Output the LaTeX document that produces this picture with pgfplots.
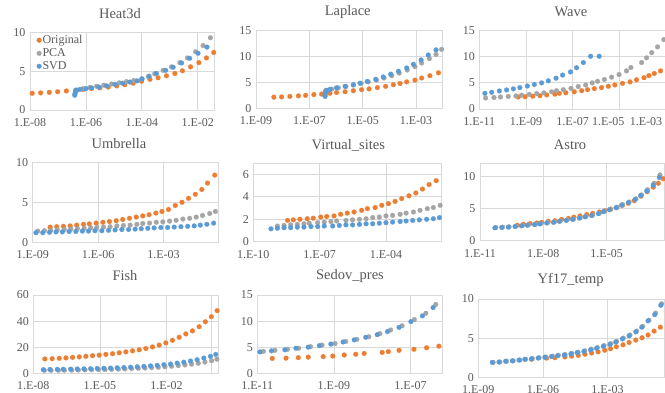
\documentclass[border=0pt]{standalone}
\usepackage{pgfplots}
\pgfplotsset{compat=1.18}
\usepackage{fontspec}
\setmainfont{Liberation Serif}
\definecolor{origc}{HTML}{ED7D31}
\definecolor{pcac}{HTML}{A5A5A5}
\definecolor{svdc}{HTML}{5B9BD5}
\definecolor{gridc}{HTML}{D9D9D9}
\definecolor{txtc}{HTML}{595959}
\pgfplotsset{
  panel/.style={
    scale only axis, anchor=south west,
    axis line style={draw=gridc, line width=0.8pt},
    grid=major, major grid style={draw=gridc, line width=0.8pt},
    tick style={draw=none},
    /pgf/number format/assume math mode=true,
    ticklabel style={font=\fontsize{12}{14}\selectfont, text=txtc},
    xticklabel style={yshift=-5pt},
    yticklabel style={xshift=-1pt},
    clip=false,
  },
  ori/.style={only marks, mark=*, mark size=2.4pt, color=origc, mark options={solid, fill=origc, draw=origc, line width=0.2pt}},
  pca/.style={only marks, mark=*, mark size=2.4pt, color=pcac, mark options={solid, fill=pcac, draw=pcac, line width=0.2pt}},
  svd/.style={only marks, mark=*, mark size=2.4pt, color=svdc, mark options={solid, fill=svdc, draw=svdc, line width=0.2pt}},
}
\newcommand{\ttl}[3]{\node[font=\fontsize{14.5}{16}\selectfont, text=txtc] at (#1pt,#2pt) {#3};}
\begin{document}
\begin{tikzpicture}
\useasboundingbox (0,0) rectangle (665pt,393pt);
% ---------- Heat3d
\begin{axis}[panel, at={(30pt,283pt)}, width=184pt, height=77.7pt,
  xmin=-8, xmax=-1.42, ymin=0, ymax=10, ytick={0,5,10},
  xtick={-8,-6,-4,-2}, xticklabels={1.E-08,1.E-06,1.E-04,1.E-02},
  legend style={draw=none, fill=none, at={(0.03,0.99)}, anchor=north west,
    font=\fontsize{12}{14}\selectfont, text=txtc, row sep=1.5pt, inner sep=1pt,
    nodes={inner sep=1pt}},
  legend cell align=left]
\addplot[ori] coordinates {(-7.92,2.15)(-7.62,2.2)(-7.31,2.27)(-7.01,2.35)(-6.70,2.45)(-6.36,2.55)(-6.10,2.65)(-5.80,2.75)(-5.50,2.85)(-5.20,2.95)(-4.90,3.1)(-4.61,3.25)(-4.31,3.45)(-4.01,3.7)(-3.71,3.95)(-3.42,4.15)(-3.12,4.4)(-2.82,4.7)(-2.55,5.05)(-2.26,5.55)(-1.96,6.1)(-1.69,6.7)(-1.43,7.4)};
\addlegendentry{Original}
\addplot[pca] coordinates {(-6.31,2.55)(-6.10,2.75)(-5.86,2.9)(-5.62,3.05)(-5.36,3.2)(-5.08,3.35)(-4.81,3.5)(-4.55,3.65)(-4.29,3.8)(-4.01,4.0)(-3.77,4.3)(-3.54,4.65)(-3.24,5.1)(-2.94,5.55)(-2.64,6.1)(-2.37,6.7)(-2.08,7.5)(-1.81,8.3)(-1.55,9.3)};
\addlegendentry{PCA}
\addplot[svd] coordinates {(-6.40,1.9)(-6.39,2.1)(-6.38,2.3)(-6.37,2.45)(-6.35,2.55)(-6.21,2.65)(-6.00,2.75)(-5.80,2.85)(-5.54,2.95)(-5.26,3.1)(-4.96,3.3)(-4.69,3.45)(-4.43,3.6)(-4.17,3.75)(-3.99,4.0)(-3.74,4.35)(-3.48,4.7)(-3.15,5.1)(-2.88,5.5)(-2.58,6.05)(-2.29,6.65)(-1.99,7.3)(-1.67,8.1)};
\addlegendentry{SVD}
\end{axis}
% ---------- Laplace
\begin{axis}[panel, at={(256pt,284.7pt)}, width=186.7pt, height=77.6pt,
  xmin=-9, xmax=-2, ymin=0, ymax=15, ytick={0,5,10,15},
  xtick={-9,-7,-5,-3}, xticklabels={1.E-09,1.E-07,1.E-05,1.E-03}]
\addplot[ori] coordinates {(-8.33,2.15)(-8.04,2.2)(-7.73,2.3)(-7.41,2.4)(-7.14,2.5)(-6.83,2.65)(-6.54,2.75)(-6.23,2.9)(-5.98,3.05)(-5.66,3.2)(-5.35,3.4)(-5.04,3.6)(-4.76,3.75)(-4.45,4.0)(-4.14,4.25)(-3.85,4.55)(-3.60,4.8)(-3.35,5.1)(-3.04,5.45)(-2.79,5.85)(-2.48,6.3)(-2.16,6.85)};
\addplot[pca] coordinates {(-6.38,3.0)(-6.38,3.3)(-6.37,3.5)(-6.16,3.7)(-5.91,3.95)(-5.63,4.2)(-5.35,4.5)(-5.06,4.8)(-4.79,5.1)(-4.48,5.45)(-4.20,5.85)(-3.91,6.3)(-3.63,6.8)(-3.33,7.4)(-3.04,8.05)(-2.79,8.75)(-2.50,9.6)(-2.25,10.4)(-2.04,11.4)};
\addplot[svd] coordinates {(-6.41,2.3)(-6.41,2.6)(-6.41,2.9)(-6.40,3.2)(-6.35,3.45)(-6.23,3.65)(-5.98,3.95)(-5.66,4.25)(-5.35,4.55)(-5.10,4.85)(-4.83,5.2)(-4.51,5.6)(-4.23,6.05)(-3.95,6.6)(-3.66,7.15)(-3.35,7.8)(-3.10,8.5)(-2.81,9.35)(-2.54,10.3)(-2.25,11.3)};
\end{axis}
% ---------- Wave
\begin{axis}[panel, at={(479.3pt,284pt)}, width=187.1pt, height=78.3pt,
  xmin=-11, xmax=-2.98, ymin=0, ymax=15, ytick={0,5,10,15},
  xtick={-11,-9,-7,-5,-3}, xticklabels={1.E-11,1.E-09,1.E-07,\hspace*{-22pt}1.E-05,\hspace*{-40pt}1.E-03}]
\addplot[ori] coordinates {(-9.33,2.3)(-9.04,2.35)(-8.71,2.45)(-8.40,2.55)(-8.11,2.7)(-7.76,2.85)(-7.57,3.0)(-7.29,3.1)(-6.93,3.3)(-6.61,3.5)(-6.36,3.7)(-6.07,3.9)(-5.76,4.1)(-5.47,4.35)(-5.19,4.6)(-4.86,4.9)(-4.54,5.2)(-4.26,5.6)(-3.94,6.0)(-3.73,6.4)(-3.50,6.8)(-3.23,7.3)};
\addplot[pca] coordinates {(-10.73,2.1)(-10.37,2.2)(-10.09,2.3)(-9.76,2.4)(-9.43,2.5)(-9.19,2.65)(-8.86,2.8)(-8.54,2.95)(-8.23,3.1)(-7.90,3.3)(-7.69,3.5)(-7.40,3.7)(-7.07,3.95)(-6.76,4.3)(-6.44,4.6)(-6.16,5.0)(-5.93,5.3)(-5.64,5.65)(-5.33,6.1)(-5.01,6.6)(-4.69,7.3)(-4.50,7.95)(-4.04,8.9)(-3.83,9.8)(-3.61,10.8)(-3.36,11.9)(-3.09,13.3)};
\addplot[svd] coordinates {(-10.76,3.0)(-10.47,3.2)(-10.14,3.45)(-9.83,3.65)(-9.54,3.85)(-9.26,4.1)(-8.94,4.4)(-8.64,4.7)(-8.33,5.0)(-8.04,5.4)(-7.71,5.9)(-7.43,6.5)(-7.09,7.1)(-6.83,7.9)(-6.54,8.9)(-6.23,10.1)(-5.86,10.1)};
\end{axis}
% ---------- Umbrella
\begin{axis}[panel, at={(32.7pt,150.7pt)}, width=185.3pt, height=80pt,
  xmin=-9, xmax=-0.5, ymin=0, ymax=10, ytick={0,5,10},
  xtick={-9,-6,-3}, xticklabels={1.E-09,1.E-06,1.E-03}]
\addplot[ori] coordinates {(-8.20,1.9)(-7.90,1.95)(-7.59,2.0)(-7.28,2.05)(-6.98,2.15)(-6.67,2.25)(-6.40,2.3)(-6.09,2.4)(-5.78,2.5)(-5.48,2.6)(-5.17,2.7)(-4.87,2.85)(-4.56,3.0)(-4.25,3.15)(-3.95,3.3)(-3.66,3.45)(-3.35,3.65)(-3.07,3.85)(-2.77,4.1)(-2.46,4.6)(-2.15,5.0)(-1.85,5.5)(-1.54,6.0)(-1.24,6.6)(-0.98,7.4)(-0.65,8.4)};
\addplot[pca] coordinates {(-8.77,1.4)(-8.46,1.45)(-8.17,1.5)(-7.87,1.55)(-7.55,1.6)(-7.25,1.65)(-6.95,1.7)(-6.64,1.75)(-6.34,1.8)(-6.06,1.85)(-5.75,1.9)(-5.45,1.95)(-5.14,2.05)(-4.84,2.1)(-4.53,2.15)(-4.22,2.25)(-3.95,2.35)(-3.64,2.4)(-3.33,2.5)(-3.03,2.55)(-2.72,2.65)(-2.42,2.75)(-2.11,2.9)(-1.80,3.0)(-1.50,3.15)(-1.21,3.35)(-0.88,3.6)(-0.62,3.85)};
\addplot[svd] coordinates {(-8.85,1.2)(-8.54,1.2)(-8.23,1.25)(-7.93,1.3)(-7.64,1.3)(-7.33,1.35)(-7.02,1.35)(-6.72,1.4)(-6.44,1.4)(-6.14,1.45)(-5.83,1.45)(-5.52,1.5)(-5.22,1.55)(-4.91,1.6)(-4.60,1.6)(-4.30,1.65)(-4.02,1.7)(-3.72,1.75)(-3.43,1.8)(-3.12,1.85)(-2.81,1.85)(-2.51,1.9)(-2.20,1.95)(-1.89,2.0)(-1.59,2.05)(-1.31,2.15)(-1.01,2.25)(-0.70,2.4)};
\end{axis}
% ---------- Virtual_sites
\begin{axis}[panel, at={(253.3pt,151.3pt)}, width=188.4pt, height=78.4pt,
  xmin=-10, xmax=-1.48, ymin=0, ymax=7, ytick={0,2,4,6},
  xtick={-10,-7,-4}, xticklabels={1.E-10,1.E-07,1.E-04}]
\addplot[ori] coordinates {(-8.45,1.9)(-8.19,1.95)(-7.89,2.0)(-7.56,2.05)(-7.29,2.1)(-6.95,2.2)(-6.68,2.25)(-6.35,2.3)(-6.05,2.45)(-5.75,2.55)(-5.44,2.65)(-5.10,2.8)(-4.84,2.95)(-4.49,3.05)(-4.19,3.25)(-3.89,3.4)(-3.59,3.6)(-3.29,3.85)(-2.96,4.1)(-2.65,4.35)(-2.35,4.7)(-2.05,5.1)(-1.73,5.45)};
\addplot[pca] coordinates {(-8.91,1.4)(-8.61,1.45)(-8.31,1.5)(-8.01,1.55)(-7.71,1.6)(-7.47,1.65)(-7.09,1.7)(-6.79,1.75)(-6.49,1.8)(-6.23,1.85)(-5.81,1.9)(-5.51,1.95)(-5.20,2.0)(-4.90,2.05)(-4.60,2.15)(-4.30,2.2)(-4.00,2.3)(-3.70,2.35)(-3.36,2.45)(-3.09,2.55)(-2.76,2.65)(-2.46,2.8)(-2.13,2.95)(-1.86,3.05)(-1.55,3.25)};
\addplot[svd] coordinates {(-9.20,1.15)(-8.91,1.2)(-8.61,1.25)(-8.31,1.25)(-8.01,1.3)(-7.71,1.3)(-7.39,1.35)(-7.09,1.35)(-6.79,1.4)(-6.41,1.4)(-6.11,1.45)(-5.81,1.5)(-5.51,1.5)(-5.20,1.55)(-4.90,1.6)(-4.60,1.6)(-4.30,1.65)(-4.00,1.7)(-3.70,1.75)(-3.36,1.8)(-3.09,1.85)(-2.79,1.9)(-2.49,1.95)(-2.16,2.0)(-1.86,2.05)(-1.58,2.15)};
\end{axis}
% ---------- Astro
\begin{axis}[panel, at={(480pt,152.3pt)}, width=184pt, height=77.4pt,
  xmin=-11, xmax=-2.28, ymin=0, ymax=12, ytick={0,5,10},
  xtick={-11,-8,-5}, xticklabels={1.E-11,1.E-08,1.E-05}]
\addplot[ori] coordinates {(-9.23,2.4)(-8.95,2.55)(-8.63,2.65)(-8.31,2.75)(-8.08,2.85)(-7.76,3.0)(-7.45,3.1)(-7.13,3.3)(-6.81,3.45)(-6.55,3.65)(-6.26,3.85)(-5.94,4.05)(-5.66,4.25)(-5.34,4.45)(-5.08,4.65)(-4.81,4.9)(-4.52,5.15)(-4.24,5.5)(-3.97,5.8)(-3.69,6.2)(-3.37,6.9)(-3.07,7.6)(-2.79,8.3)(-2.55,8.9)(-2.31,9.6)};
\addplot[pca] coordinates {(-10.25,2.05)(-9.93,2.1)(-9.62,2.15)(-9.30,2.25)(-8.99,2.35)(-8.72,2.45)(-8.38,2.55)(-8.12,2.65)(-7.80,2.8)(-7.48,2.9)(-7.20,3.05)(-6.88,3.2)(-6.57,3.35)(-6.25,3.55)(-5.98,3.75)(-5.67,3.95)(-5.35,4.25)(-5.11,4.55)(-4.83,4.85)(-4.51,5.2)(-4.25,5.6)(-3.93,6.0)(-3.61,6.5)(-3.35,7.1)(-3.06,7.9)(-2.75,8.9)(-2.47,10.2)};
\addplot[svd] coordinates {(-10.29,2.0)(-9.97,2.05)(-9.66,2.1)(-9.34,2.2)(-9.03,2.3)(-8.76,2.4)(-8.42,2.5)(-8.16,2.6)(-7.84,2.75)(-7.52,2.85)(-7.24,3.0)(-6.92,3.15)(-6.61,3.3)(-6.29,3.5)(-6.02,3.7)(-5.71,3.9)(-5.39,4.2)(-5.15,4.5)(-4.87,4.8)(-4.55,5.1)(-4.29,5.5)(-3.97,5.9)(-3.65,6.4)(-3.39,7.0)(-3.10,7.7)(-2.79,8.6)(-2.50,9.8)};
\end{axis}
% ---------- Fish
\begin{axis}[panel, at={(33.3pt,19.7pt)}, width=184.7pt, height=78.3pt,
  xmin=-8, xmax=0.32, ymin=0, ymax=60, ytick={0,20,40,60},
  xtick={-8,-5,-2}, xticklabels={1.E-08,1.E-05,1.E-02},
  extra x ticks={0}, extra x tick labels={}, extra x tick style={grid=major}]
\addplot[ori] coordinates {(-7.48,11.0)(-7.15,11.2)(-6.83,11.5)(-6.53,11.8)(-6.23,12.2)(-5.93,12.6)(-5.63,13.0)(-5.33,13.5)(-5.03,13.9)(-4.73,14.5)(-4.43,15.0)(-4.13,15.7)(-3.83,16.4)(-3.53,17.2)(-3.23,18.0)(-2.93,19.0)(-2.63,20.2)(-2.33,21.6)(-2.03,23.3)(-1.73,25.3)(-1.43,27.6)(-1.13,30.2)(-0.83,32.5)(-0.53,35.7)(-0.25,39.5)(0.02,43.4)(0.28,48.0)};
\addplot[pca] coordinates {(-7.50,2.2)(-7.20,2.25)(-6.87,2.3)(-6.60,2.35)(-6.27,2.4)(-5.97,2.5)(-5.67,2.6)(-5.37,2.7)(-5.07,2.8)(-4.77,2.9)(-4.47,3.0)(-4.17,3.2)(-3.87,3.4)(-3.57,3.6)(-3.27,3.8)(-2.97,4.0)(-2.67,4.3)(-2.37,4.6)(-2.07,5.0)(-1.77,5.4)(-1.47,5.9)(-1.17,6.4)(-0.87,7.0)(-0.57,7.7)(-0.27,8.6)(0.03,9.6)(0.27,10.8)};
\addplot[svd] coordinates {(-7.55,2.8)(-7.25,2.9)(-6.92,3.0)(-6.65,3.1)(-6.32,3.2)(-6.02,3.3)(-5.72,3.4)(-5.42,3.5)(-5.12,3.7)(-4.82,3.8)(-4.52,4.0)(-4.22,4.2)(-3.92,4.4)(-3.62,4.7)(-3.32,5.0)(-3.02,5.3)(-2.72,5.7)(-2.42,6.1)(-2.12,6.6)(-1.82,7.1)(-1.52,7.8)(-1.22,8.5)(-0.92,9.4)(-0.62,10.4)(-0.32,11.7)(-0.02,13.0)(0.22,14.5)};
\end{axis}
% ---------- Sedov_pres
\begin{axis}[panel, at={(257.3pt,19.7pt)}, width=185.4pt, height=78.3pt,
  xmin=-11, xmax=-6.16, ymin=0, ymax=15, ytick={0,5,10,15},
  xtick={-11,-9,-7}, xticklabels={1.E-11,1.E-09,1.E-07}]
\addplot[ori] coordinates {(-10.61,2.85)(-10.25,2.9)(-9.93,3.0)(-9.67,3.1)(-9.28,3.2)(-9.03,3.3)(-8.73,3.5)(-8.43,3.65)(-8.21,3.8)(-7.74,4.0)(-7.58,4.15)(-7.30,4.4)(-6.91,4.6)(-6.58,4.9)(-6.26,5.2)};
\addplot[pca] coordinates {(-10.84,4.2)(-10.54,4.4)(-10.21,4.6)(-9.92,4.8)(-9.61,5.1)(-9.31,5.4)(-8.97,5.7)(-8.69,6.1)(-8.40,6.5)(-8.09,7.0)(-7.80,7.6)(-7.52,8.3)(-7.22,9.1)(-6.90,10.3)(-6.60,11.5)(-6.34,13.2)};
\addplot[svd] coordinates {(-10.93,4.1)(-10.63,4.3)(-10.28,4.5)(-9.99,4.8)(-9.67,5.0)(-9.38,5.3)(-9.08,5.6)(-8.76,6.0)(-8.47,6.4)(-8.17,6.9)(-7.87,7.4)(-7.60,8.0)(-7.30,8.8)(-6.99,9.9)(-6.69,11.0)(-6.41,12.6)};
\end{axis}
% ---------- Yf17_temp
\begin{axis}[panel, at={(478.3pt,15.7pt)}, width=185.7pt, height=78.3pt,
  xmin=-9, xmax=-0.38, ymin=0, ymax=10, ytick={0,5,10},
  xtick={-9,-6,-3}, xticklabels={1.E-09,1.E-06,1.E-03}]
\addplot[ori] coordinates {(-6.53,2.3)(-5.83,2.45)(-5.45,2.5)(-4.98,2.6)(-4.67,2.7)(-4.36,2.8)(-4.05,2.95)(-3.74,3.1)(-3.44,3.25)(-3.13,3.45)(-2.86,3.65)(-2.59,3.9)(-2.28,4.15)(-2.00,4.45)(-1.69,4.75)(-1.40,5.05)(-1.12,5.4)(-0.84,5.9)(-0.55,6.4)};
\addplot[pca] coordinates {(-8.31,1.9)(-8.00,1.95)(-7.69,2.05)(-7.38,2.1)(-7.07,2.2)(-6.80,2.3)(-6.49,2.4)(-6.18,2.5)(-5.87,2.6)(-5.56,2.7)(-5.28,2.8)(-4.97,2.9)(-4.66,3.05)(-4.37,3.2)(-4.06,3.4)(-3.75,3.6)(-3.47,3.8)(-3.16,4.05)(-2.85,4.3)(-2.58,4.6)(-2.27,5.0)(-1.96,5.4)(-1.65,5.9)(-1.37,6.5)(-1.08,7.3)(-0.77,8.2)(-0.49,9.4)};
\addplot[svd] coordinates {(-8.35,1.9)(-8.04,1.95)(-7.73,2.05)(-7.42,2.1)(-7.11,2.2)(-6.84,2.3)(-6.53,2.35)(-6.22,2.45)(-5.91,2.55)(-5.60,2.65)(-5.32,2.75)(-5.01,2.85)(-4.70,3.0)(-4.41,3.15)(-4.10,3.3)(-3.79,3.5)(-3.51,3.7)(-3.20,3.95)(-2.89,4.2)(-2.62,4.5)(-2.31,4.9)(-2.00,5.3)(-1.69,5.8)(-1.41,6.4)(-1.12,7.2)(-0.81,8.0)(-0.53,9.2)};
\end{axis}
% ---------- titles
\ttl{120}{379.7}{Heat3d}
\ttl{347.7}{381.3}{Laplace}
\ttl{571}{381.3}{Wave}
\ttl{119}{249}{Umbrella}
\ttl{348.3}{248}{Virtual\_sites}
\ttl{570}{248}{Astro}
\ttl{125}{117}{Fish}
\ttl{350}{117}{Sedov\_pres}
\ttl{570.7}{113}{Yf17\_temp}
\end{tikzpicture}
\end{document}
